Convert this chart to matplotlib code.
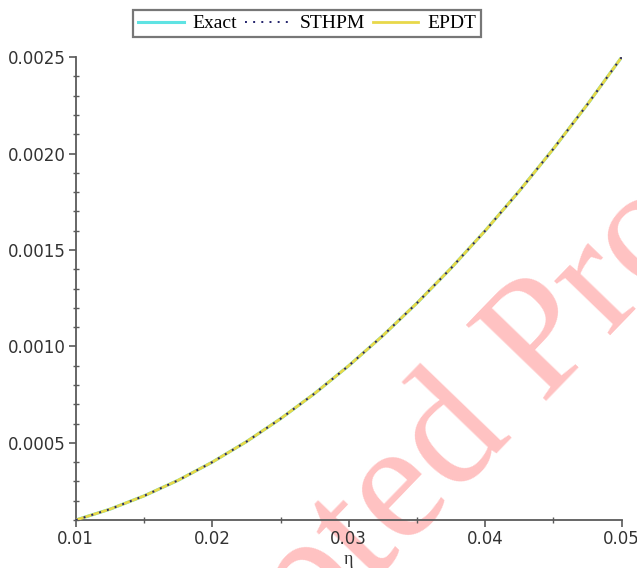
import matplotlib
matplotlib.use("Agg")
import matplotlib.pyplot as plt
from matplotlib.ticker import MultipleLocator, FixedLocator

# ---- data ----
eta = [0.0100, 0.0125, 0.0150, 0.0175, 0.0200, 0.0225, 0.0250, 0.0275, 0.0300,
       0.0325, 0.0350, 0.0375, 0.0400, 0.0425, 0.0450, 0.0475, 0.0500]
exact = [0.000100, 0.000156, 0.000225, 0.000306, 0.000400, 0.000506, 0.000625,
         0.000756, 0.000900, 0.001056, 0.001225, 0.001406, 0.001600, 0.001806,
         0.002025, 0.002256, 0.002500]
sthpm = [0.000100, 0.000156, 0.000225, 0.000306, 0.000400, 0.000506, 0.000625,
         0.000756, 0.000900, 0.001056, 0.001225, 0.001406, 0.001600, 0.001806,
         0.002025, 0.002256, 0.002500]
epdt = [0.000100, 0.000156, 0.000225, 0.000306, 0.000400, 0.000506, 0.000625,
        0.000756, 0.000900, 0.001056, 0.001225, 0.001406, 0.001600, 0.001806,
        0.002025, 0.002256, 0.002500]
series_labels = ["Exact", "STHPM", "EPDT"]
x_ticks = [0.01, 0.02, 0.03, 0.04, 0.05]
x_ticklabels = ["0.01", "0.02", "0.03", "0.04", "0.05"]
y_ticks = [0.0005, 0.0010, 0.0015, 0.0020, 0.0025]
y_ticklabels = ["0.0005", "0.0010", "0.0015", "0.0020", "0.0025"]

fig = plt.figure(figsize=(6.37, 5.68), dpi=100)
fig.patch.set_facecolor("white")

# watermark behind the axes
fig.text(0.108, -0.577, "Accepted Proof", rotation=46, rotation_mode="anchor",
         ha="left", va="baseline", fontsize=122, color="#ffc2c2",
         family="Liberation Serif", zorder=-1)

ax = fig.add_axes([0.119, 0.0845, 0.857, 0.815])
ax.patch.set_visible(False)

l1, = ax.plot(eta, exact, color="#5fe3e3", lw=2.2, label=series_labels[0], zorder=2)
l3, = ax.plot(eta, epdt, color="#e8d84a", lw=2.0, label=series_labels[2], zorder=3)
l2, = ax.plot(eta, sthpm, color="#22226b", lw=1.4, ls=(0, (1, 3.2)),
              label=series_labels[1], zorder=4)

ax.set_xlim(0.01, 0.05)
ax.set_ylim(0.0001, 0.0025)

for s in ["top", "right"]:
    ax.spines[s].set_visible(False)
for s in ["left", "bottom"]:
    ax.spines[s].set_color("#5a5a5a")
    ax.spines[s].set_linewidth(1.3)

ax.xaxis.set_major_locator(FixedLocator(x_ticks))
ax.set_xticklabels(x_ticklabels)
ax.xaxis.set_minor_locator(MultipleLocator(0.005))
ax.yaxis.set_major_locator(FixedLocator(y_ticks))
ax.set_yticklabels(y_ticklabels)
ax.yaxis.set_minor_locator(MultipleLocator(0.0001))

ax.tick_params(which="major", direction="out", length=5, width=1.2,
               color="#5a5a5a", labelsize=12, labelcolor="#333333", pad=2)
ax.tick_params(which="minor", direction="inout", length=4, width=1.0,
               color="#5a5a5a")

ax.set_xlabel("η", family="Liberation Serif", fontsize=13, color="#333333",
              labelpad=2)

leg = fig.legend(handles=[l1, l2, l3], labels=series_labels, ncol=3,
                 loc="center", bbox_to_anchor=(0.482, 0.9586),
                 prop={"family": "Liberation Serif", "size": 14},
                 frameon=True, fancybox=False, edgecolor="#555555",
                 handlelength=2.35, handletextpad=0.45, columnspacing=0.4,
                 borderpad=0.25, borderaxespad=0)
leg.get_frame().set_linewidth(1.6)

fig.savefig("out.png", dpi=100, facecolor="white")
